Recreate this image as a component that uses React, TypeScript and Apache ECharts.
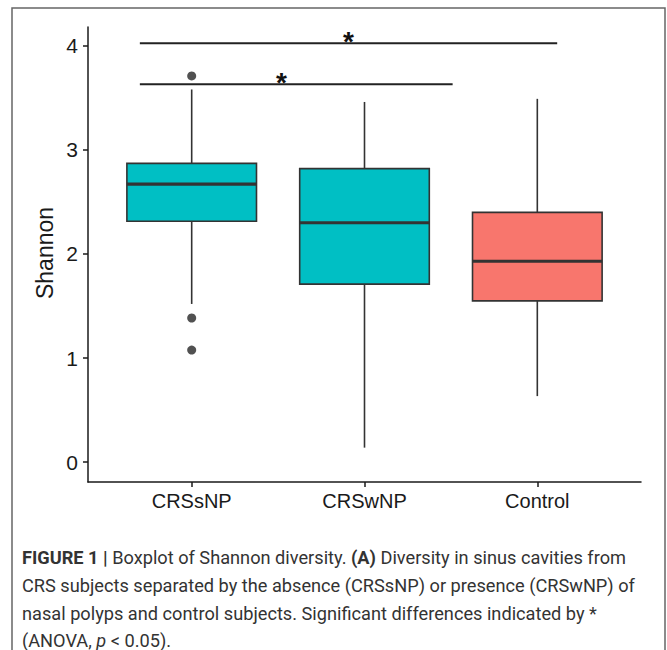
import React, { useEffect, useRef } from "react";
import * as echarts from "echarts";

// ---- data ----
const categories = ["CRSsNP", "CRSwNP", "Control"];
const whiskerLow = [1.52, 0.14, 0.635];
const q1 = [2.315, 1.71, 1.55];
const median = [2.67, 2.30, 1.93];
const q3 = [2.87, 2.82, 2.40];
const whiskerHigh = [3.58, 3.46, 3.49];
const boxColors = ["#00BFC4", "#00BFC4", "#F8766D"];

const outlierGroup = [0, 0, 0];
const outlierValues = [3.71, 1.385, 1.077];

// significance brackets: start x, end x, y, star x
const bracketStart = [-0.30, -0.30];
const bracketEnd = [2.115, 1.51];
const bracketY = [4.024, 3.63];
const starX = [0.907, 0.52];

const yTicks = [0, 1, 2, 3, 4];
const xTicks = [0, 1, 2];

const captionFont = "Roboto, 'Liberation Sans', sans-serif";
const captionSize = 18.2;

export default function App() {
  const ref = useRef<HTMLDivElement>(null);

  useEffect(() => {
    if (!ref.current) return;
    const chart = echarts.init(ref.current, undefined, { renderer: "svg" });

    const boxData = categories.map((_, i) => [
      i,
      whiskerLow[i],
      q1[i],
      median[i],
      q3[i],
      whiskerHigh[i],
    ]);
    const outlierData = outlierGroup.map((g, i) => [g, outlierValues[i]]);
    const bracketData = bracketY.map((y, i) => [bracketStart[i], bracketEnd[i], y, starX[i]]);

    const axisColor = "#1a1a1a";
    const fontFamily = "'Liberation Sans', Arial, sans-serif";

    const option: any = {
      animation: false,
      backgroundColor: "#fff",
      grid: { left: 88, top: 27, width: 553, height: 455, containLabel: false },
      xAxis: {
        type: "value",
        min: -0.6,
        max: 2.6,
        axisLine: { show: true, onZero: false, lineStyle: { color: axisColor, width: 1.5 } },
        axisTick: { show: true, customValues: xTicks, length: 5, lineStyle: { color: axisColor, width: 1.5 } },
        axisLabel: {
          customValues: xTicks,
          formatter: (v: number) => categories[Math.round(v)] ?? "",
          fontSize: 20,
          color: axisColor,
          margin: 9,
          fontFamily,
        },
        splitLine: { show: false },
      },
      yAxis: {
        type: "value",
        min: -0.19,
        max: 4.18,
        axisLine: { show: true, onZero: false, lineStyle: { color: axisColor, width: 1.5 } },
        axisTick: { show: true, customValues: yTicks, length: 5, lineStyle: { color: axisColor, width: 1.5 } },
        axisLabel: {
          customValues: yTicks,
          formatter: (v: number) => String(Math.round(v)),
          fontSize: 21,
          color: axisColor,
          margin: 10,
          fontFamily,
        },
        splitLine: { show: false },
      },
      series: [
        {
          type: "custom",
          name: "Shannon",
          data: boxData,
          encode: { x: 0, y: [1, 2, 3, 4, 5] },
          renderItem: (params: any, api: any) => {
            const i = api.value(0);
            const lo = api.coord([i, api.value(1)]);
            const p1 = api.coord([i, api.value(2)]);
            const pm = api.coord([i, api.value(3)]);
            const p3 = api.coord([i, api.value(4)]);
            const hi = api.coord([i, api.value(5)]);
            const w = api.size([0.75, 0])[0];
            const x0 = lo[0] - w / 2;
            const stroke = "#333";
            return {
              type: "group",
              children: [
                { type: "line", shape: { x1: lo[0], y1: hi[1], x2: lo[0], y2: p3[1] }, style: { stroke, lineWidth: 1.6 } },
                { type: "line", shape: { x1: lo[0], y1: p1[1], x2: lo[0], y2: lo[1] }, style: { stroke, lineWidth: 1.6 } },
                {
                  type: "rect",
                  shape: { x: x0, y: p3[1], width: w, height: p1[1] - p3[1] },
                  style: { fill: boxColors[params.dataIndex], stroke, lineWidth: 1.6 },
                },
                { type: "line", shape: { x1: x0, y1: pm[1], x2: x0 + w, y2: pm[1] }, style: { stroke, lineWidth: 3.2 } },
              ],
            };
          },
          z: 2,
        },
        {
          type: "scatter",
          name: "outliers",
          data: outlierData,
          symbol: "circle",
          symbolSize: 9,
          itemStyle: { color: "#262626" },
          z: 3,
        },
        {
          type: "custom",
          name: "significance",
          data: bracketData,
          encode: { x: [0, 1, 3], y: 2 },
          renderItem: (params: any, api: any) => {
            const y = api.value(2);
            const a = api.coord([api.value(0), y]);
            const b = api.coord([api.value(1), y]);
            const s = api.coord([api.value(3), y]);
            return {
              type: "group",
              children: [
                { type: "line", shape: { x1: a[0], y1: a[1], x2: b[0], y2: b[1] }, style: { stroke: "#222", lineWidth: 2 } },
                {
                  type: "text",
                  x: s[0],
                  y: s[1] - 1.5,
                  style: {
                    text: "*",
                    fontSize: 28,
                    fontWeight: "bold",
                    fontFamily,
                    fill: "#111",
                    align: "center",
                    verticalAlign: "middle",
                  },
                },
              ],
            };
          },
          z: 4,
        },
      ],
      graphic: [
        {
          type: "rect",
          shape: { x: 12, y: 8, width: 653, height: 700 },
          style: { fill: "none", stroke: "#666", lineWidth: 1.5 },
          silent: true,
        },
        {
          type: "text",
          x: 45,
          y: 253,
          rotation: Math.PI / 2,
          style: {
            text: "Shannon",
            fontSize: 23,
            fontFamily,
            fill: "#1a1a1a",
            align: "center",
            verticalAlign: "middle",
          },
        },
        {
          type: "text",
          x: 22,
          y: 557,
          style: {
            text: "{b|FIGURE 1 |} Boxplot of Shannon diversity. {b|(A)} Diversity in sinus cavities from",
            fontSize: captionSize,
            fontFamily: captionFont,
            fill: "#333",
            verticalAlign: "middle",
            rich: { b: { fontWeight: "bold", fontSize: captionSize, fontFamily: captionFont, fill: "#333" } },
          },
        },
        {
          type: "text",
          x: 22,
          y: 585,
          style: {
            text: "CRS subjects separated by the absence (CRSsNP) or presence (CRSwNP) of",
            fontSize: captionSize,
            fontFamily: captionFont,
            fill: "#333",
            verticalAlign: "middle",
          },
        },
        {
          type: "text",
          x: 22,
          y: 613,
          style: {
            text: "nasal polyps and control subjects. Significant differences indicated by *",
            fontSize: captionSize,
            fontFamily: captionFont,
            fill: "#333",
            verticalAlign: "middle",
          },
        },
        {
          type: "text",
          x: 22,
          y: 640,
          style: {
            text: "(ANOVA, {i|p} < 0.05).",
            fontSize: captionSize,
            fontFamily: captionFont,
            fill: "#333",
            verticalAlign: "middle",
            rich: { i: { fontStyle: "italic", fontSize: captionSize, fontFamily: captionFont, fill: "#333" } },
          },
        },
      ],
    };

    chart.setOption(option);
    return () => chart.dispose();
  }, []);

  return (
    <div
      ref={ref}
      style={{ position: "absolute", left: 0, top: 0, width: 667, height: 650 }}
    />
  );
}
